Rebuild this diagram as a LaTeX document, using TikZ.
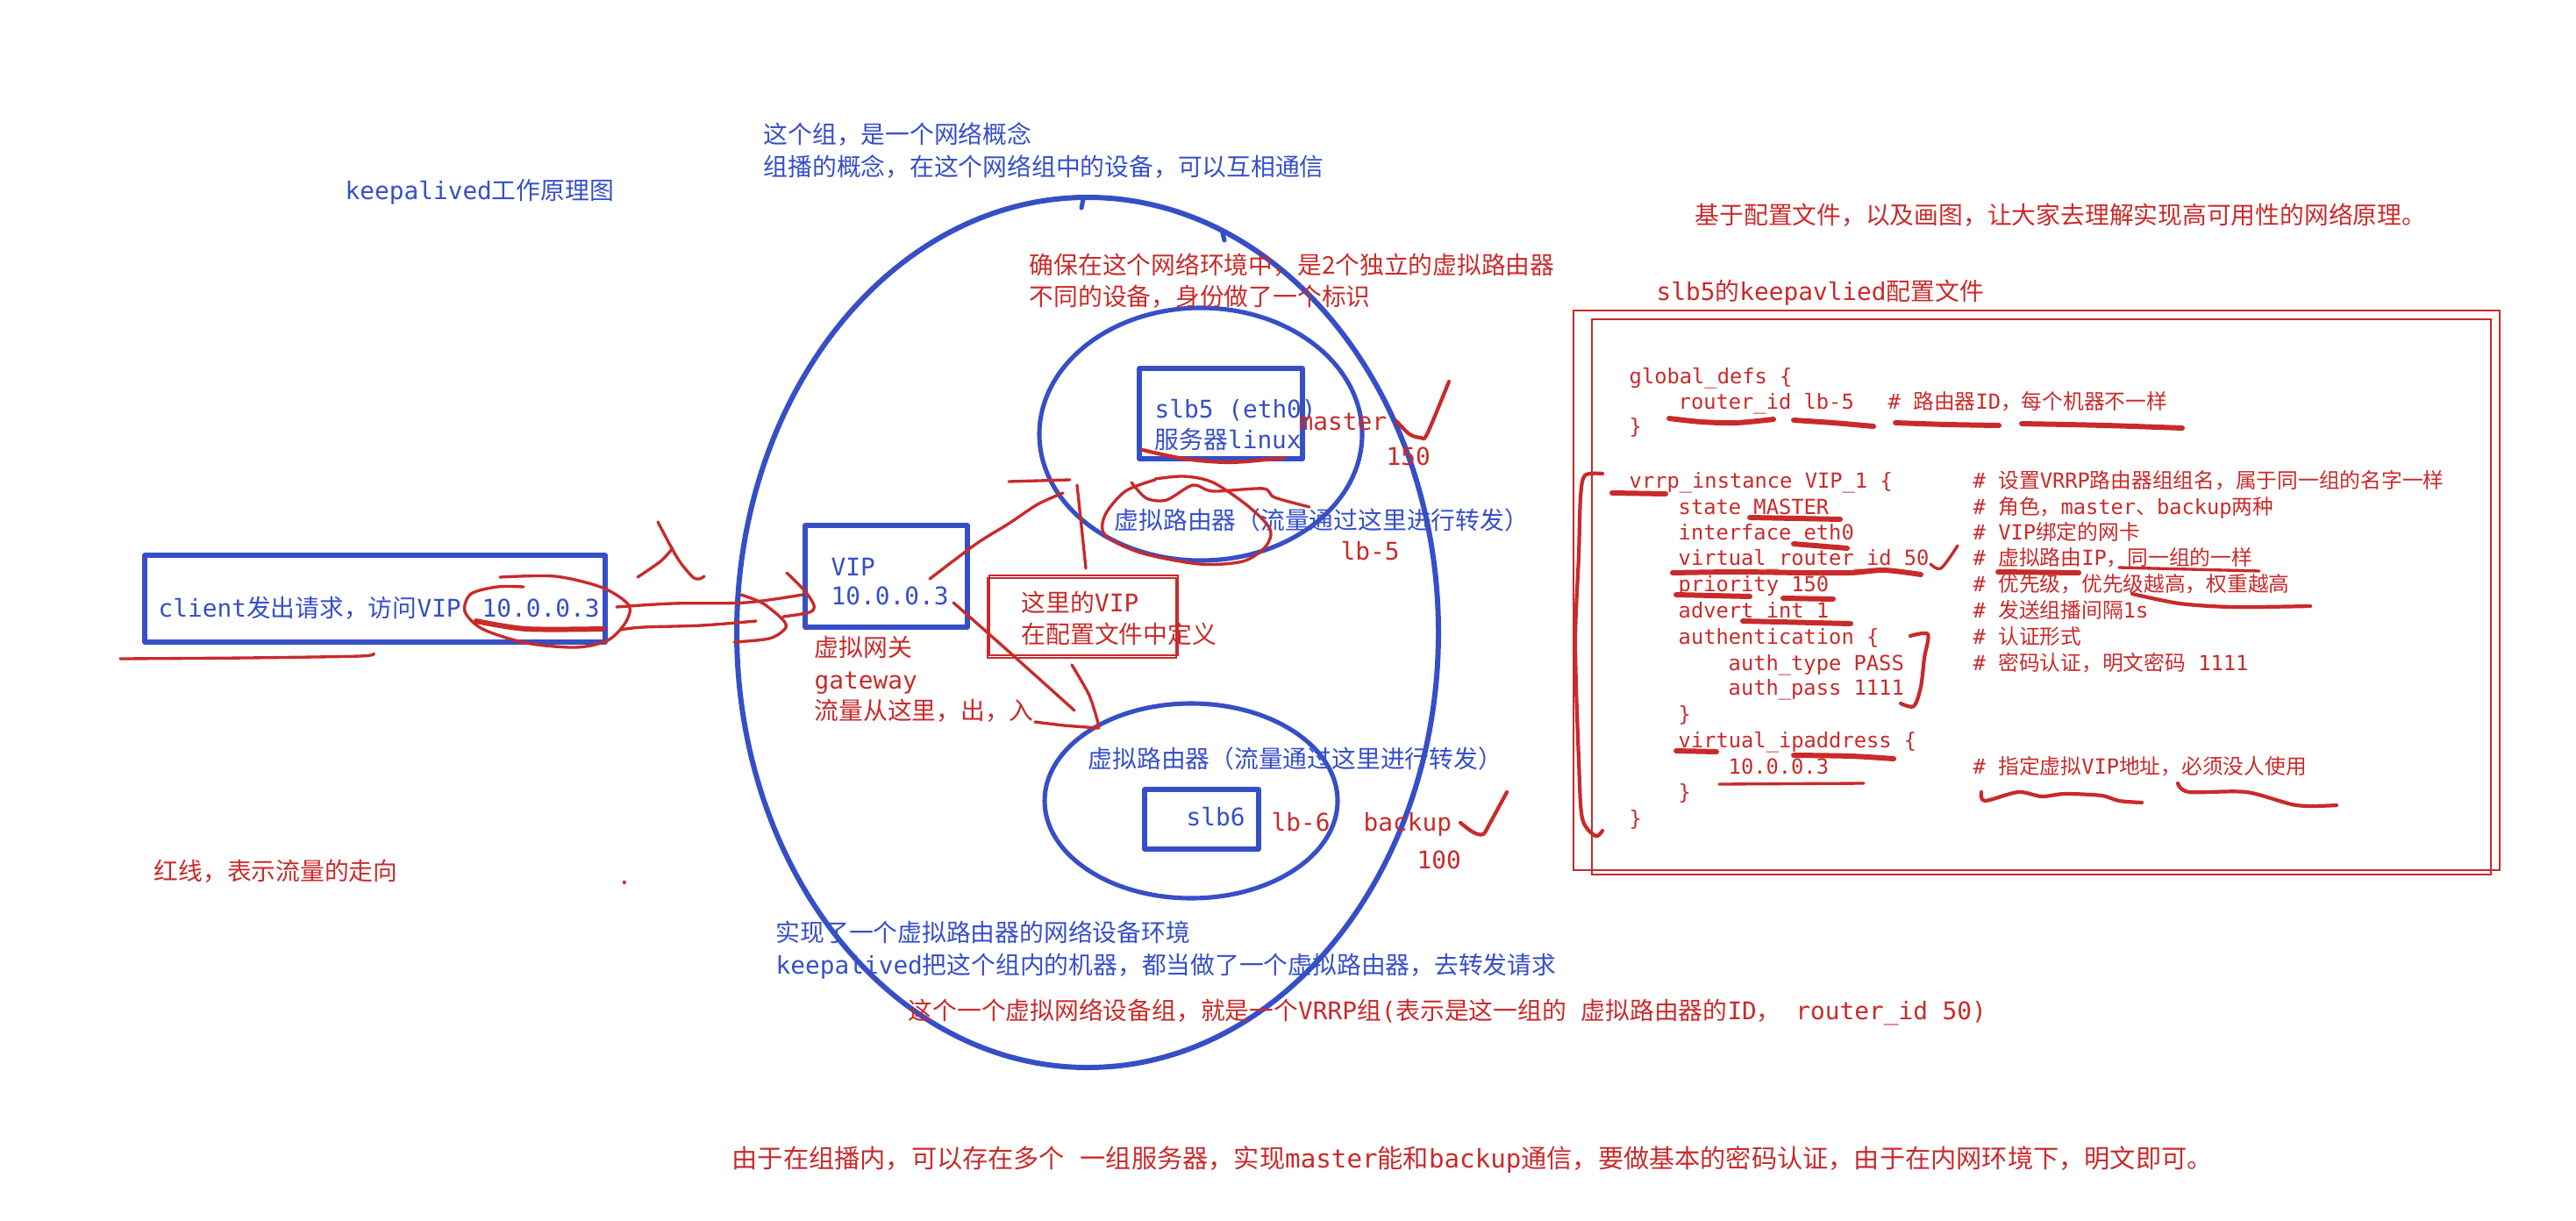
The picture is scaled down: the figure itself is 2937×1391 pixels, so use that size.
\documentclass[tikz,border=0pt]{standalone}
\usepackage{fontspec}
\setmainfont{Noto Sans CJK SC}
\newfontfamily\mono{DejaVu Sans Mono}
\newcommand\m[1]{{\mono #1}}
\newcommand\bigsz{\fontsize{7.9pt}{10pt}\selectfont}
\newcommand\cfgsz{\fontsize{6.75pt}{8.5pt}\selectfont}
\definecolor{inkblue}{RGB}{54,79,199}
\definecolor{inkred}{RGB}{201,42,42}

\begin{document}
\begin{tikzpicture}[x=0.01cm,y=-0.01cm,
  btxt/.style={text=inkblue,font=\bigsz,anchor=base west,inner sep=0pt},
  rtxt/.style={text=inkred,font=\bigsz,anchor=base west,inner sep=0pt},
  note/.style={text=inkred,font=\cfgsz,anchor=base west,inner sep=0pt},
  code/.style={note,font=\cfgsz\mono},
  pen/.style={inkblue,line width=1.45pt,line join=round,line cap=round},
  ink/.style={inkred,line width=0.95pt,line join=round,line cap=round},
  fat/.style={ink,line width=1.7pt},
  frame/.style={inkred,line width=0.4pt}]
\useasboundingbox (0,0) rectangle (2937,1391);

% blue group, routers and boxes
\draw[pen,line width=1.7pt] (1240,721) ellipse [x radius=400,y radius=496];
\draw[pen] (1235,227) -- (1233,237);
\draw[pen] (1393,262) -- (1396,274);
\draw[pen] (1369,495) ellipse [x radius=184,y radius=144];
\draw[pen] (1358,913) ellipse [x radius=167,y radius=111];
\draw[pen] (165,633) rectangle (690,732);
\draw[pen] (918,599) rectangle (1103,715);
\draw[pen] (1299,420) rectangle (1485,523);
\draw[pen] (1305,900) rectangle (1435,968);

% red frames
\draw[frame] (1128,656) rectangle (1343,747);
\draw[frame] (1126,659) rectangle (1341,750);
\draw[frame] (1794,354) rectangle (2850,992);
\draw[frame] (1815,364) rectangle (2840,997);

% blue texts
\node[btxt] (title) at (393,227) {\m{keepalived}工作原理图};
\node[btxt] (grp1) at (870,164) {这个组，是一个网络概念};
\node[btxt] (grp2) at (870,201) {组播的概念，在这个网络组中的设备，可以互相通信};
\node[btxt] (client) at (180,703) {\m{client}发出请求，访问\m{VIP}\hspace{2.4mm}\m{10.0.0.3}};
\node[btxt] (vip1) at (947,656) {\m{VIP}};
\node[btxt] (vip2) at (947,689) {\m{10.0.0.3}};
\node[btxt] (slb5a) at (1316,476) {\m{slb5 (eth0)}};
\node[btxt] (slb5b) at (1316,511) {服务器\m{linux}};
\node[btxt] (slb6) at (1352,941) {\m{slb6}};
\node[btxt] (rt5) at (1270,603) {虚拟路由器（流量通过这里进行转发）};
\node[btxt] (rt6) at (1240,875) {虚拟路由器（流量通过这里进行转发）};
\node[btxt] (env1) at (884,1073) {实现了一个虚拟路由器的网络设备环境};
\node[btxt] (env2) at (884,1110) {\m{keepalived}把这个组内的机器，都当做了一个虚拟路由器，去转发请求};

% red texts
\node[rtxt] (ensure1) at (1173,312) {确保在这个网络环境中，是2个独立的虚拟路由器};
\node[rtxt] (ensure2) at (1173,348) {不同的设备，身份做了一个标识};
\node[rtxt] (master) at (1480,490) {\m{master}};
\node[rtxt] (p150) at (1580,530) {\m{150}};
\node[rtxt] (lb5) at (1528,638) {\m{lb-5}};
\node[rtxt] (def1) at (1164,697) {这里的\m{VIP}};
\node[rtxt] (def2) at (1164,733) {在配置文件中定义};
\node[rtxt] (gw1) at (928,748) {虚拟网关};
\node[rtxt] (gw2) at (928,785) {\m{gateway}};
\node[rtxt] (gw3) at (928,820) {流量从这里，出，入};
\node[rtxt] (lb6) at (1449,947) {\m{lb-6}};
\node[rtxt] (backup) at (1554,947) {\m{backup}};
\node[rtxt] (p100) at (1615,990) {\m{100}};
\node[rtxt] (legend) at (175,1003) {红线，表示流量的走向};
\node[rtxt] (dot) at (703,1008) {\m{.}};
\node[rtxt] (vrrp) at (1035,1162) {这个一个虚拟网络设备组，就是一个\m{VRRP}组\m{(}表示是这一组的\m{ }虚拟路由器的\m{ID}，\m{ router\_id 50)}};
\node[rtxt,font=\fontsize{8.3pt}{10pt}\selectfont] (auth) at (834,1331) {由于在组播内，可以存在多个\m{ }一组服务器，实现\m{master}能和\m{backup}通信，要做基本的密码认证，由于在内网环境下，明文即可。};
\node[rtxt] (aim) at (1932,255) {基于配置文件，以及画图，让大家去理解实现高可用性的网络原理。};
\node[rtxt] (cfgtitle) at (1888,342) {\m{slb5}的\m{keepavlied}配置文件};

% config file
\foreach \yy/\xx/\txt in {428/1857/global\_defs \{,457/1913/router\_id lb-5,485/1857/\},
  547/1857/vrrp\_instance VIP\_1 \{,577/1913/state MASTER,606/1913/interface eth0,
  635/1913/virtual\_router\_id 50,665/1913/priority 150,695/1913/advert\_int 1,
  725/1913/authentication \{,755/1970/auth\_type PASS,783/1970/auth\_pass 1111,813/1913/\},
  843/1913/virtual\_ipaddress \{,873/1970/10.0.0.3,902/1913/\},932/1857/\}}
  \node[code] (code\yy) at (\xx,\yy+9) {\txt};
\node[note] (note457) at (2152,466) {\m{\# }路由器\m{ID}，每个机器不一样};
\foreach \yy/\txt in {547/设置\m{VRRP}路由器组组名，属于同一组的名字一样,
  577/角色，\m{master}、\m{backup}两种,606/\m{VIP}绑定的网卡,
  635/虚拟路由\m{IP}，同一组的一样,665/优先级，优先级越高，权重越高,
  695/发送组播间隔\m{1s},725/认证形式,755/密码认证，明文密码\m{ 1111},
  873/指定虚拟\m{VIP}地址，必须没人使用}
  \node[note] (note\yy) at (2249,\yy+9) {\m{\# }\txt};

% red strokes: traffic in
\draw[ink] plot[smooth] coordinates {(137,751) (281,750) (410,748) (426,745)};
\draw[ink] plot[smooth] coordinates {(570,658) (633,657) (687,670) (717,690) (713,710) (693,730) (657,738) (600,733) (550,717) (530,697) (537,677) (567,669) (597,669)};
\draw[fat] plot[smooth] coordinates {(543,708) (600,717) (687,717)};
\draw[ink] plot[smooth] coordinates {(703,692) (767,688) (850,687) (915,678)};
\draw[ink] plot[smooth] coordinates {(707,718) (733,715) (800,713) (862,708)};
\draw[ink] plot[smooth] coordinates {(845,678) (870,688) (893,707) (895,717) (877,728) (837,732)};
\draw[ink] plot[smooth] coordinates {(897,653) (917,673) (928,690) (923,698) (893,703)};
\draw[ink] plot[smooth] coordinates {(750,595) (767,627) (777,643) (790,658) (797,660) (803,657)};
\draw[ink] plot[smooth] coordinates {(727,658) (753,640) (767,625)};

% red strokes: to the routers
\draw[ink] plot[smooth] coordinates {(1060,660) (1113,620) (1150,597) (1183,575) (1212,562)};
\draw[ink] (1150,549) -- (1220,547);
\draw[ink] plot[smooth] coordinates {(1228,553) (1233,600) (1238,648)};
\draw[ink] plot[smooth] coordinates {(1290,550) (1307,568) (1330,570) (1360,553) (1383,560) (1440,557) (1453,567) (1493,578)};
\draw[ink] plot[smooth] coordinates {(1317,546) (1350,543) (1383,550) (1423,577) (1448,603) (1443,623) (1417,640) (1367,643) (1300,630) (1260,610) (1260,587) (1283,560) (1317,547)};
\draw[ink,line width=1.2pt] plot[smooth] coordinates {(1303,513) (1350,523) (1403,527) (1463,522)};
\draw[ink,line width=1.2pt] plot[smooth] coordinates {(1592,480) (1607,495) (1620,499) (1627,495) (1652,435)};
\draw[ink] plot[smooth] coordinates {(1087,687) (1147,740) (1225,810)};
\draw[ink] plot[smooth] coordinates {(1222,758) (1242,793) (1253,828)};
\draw[ink] plot[smooth] coordinates {(1180,823) (1213,827) (1253,830)};
\draw[ink,line width=1.2pt] plot[smooth] coordinates {(1665,938) (1680,949) (1691,951) (1699,938) (1718,903)};

% red strokes: config marks
\draw[fat] plot[smooth] coordinates {(1903,477) (1940,481) (1980,482) (2022,478)};
\draw[fat] plot[smooth] coordinates {(2045,479) (2090,482) (2136,486)};
\draw[fat] plot[smooth] coordinates {(2161,482) (2220,484) (2279,485)};
\draw[fat] plot[smooth] coordinates {(2305,483) (2400,485) (2488,488)};
\draw[ink,line width=1.2pt] plot[smooth] coordinates {(1827,540) (1807,542) (1802,567) (1800,633) (1796,733) (1800,867) (1804,933) (1819,953) (1827,947)};
\draw[fat] (1838,562) -- (1899,563);
\draw[fat] (1995,590) -- (2098,592);
\draw[fat] (2045,620) -- (2106,625);
\draw[ink] plot[smooth] coordinates {(2201,643) (2213,648) (2232,622)};
\draw[fat] plot[smooth] coordinates {(1907,653) (1980,652) (2056,653) (2110,653) (2148,650) (2190,655)};
\draw[fat] (2278,652) -- (2370,653);
\draw[ink] (2416,647) -- (2576,651);
\draw[fat] (1911,678) -- (1995,680);
\draw[fat] (2033,682) -- (2090,683);
\draw[ink,line width=1.2pt] plot[smooth] coordinates {(2431,677) (2485,688) (2546,692) (2634,691)};
\draw[fat] (1987,708) -- (2110,711);
\draw[ink,line width=1.2pt] plot[smooth] coordinates {(2178,725) (2198,723) (2194,750) (2190,783) (2182,805) (2167,802)};
\draw[fat] (1911,856) -- (1957,857);
\draw[fat] plot[smooth] coordinates {(2045,861) (2110,862) (2159,865)};
\draw[ink] (1960,894) -- (2125,893);
\draw[ink,line width=1.2pt] plot[smooth] coordinates {(2259,903) (2263,913) (2301,903) (2328,908) (2354,905) (2396,907) (2416,913) (2442,915)};
\draw[ink,line width=1.2pt] plot[smooth] coordinates {(2483,893) (2496,903) (2561,903) (2618,918) (2664,918)};
\end{tikzpicture}
\end{document}
